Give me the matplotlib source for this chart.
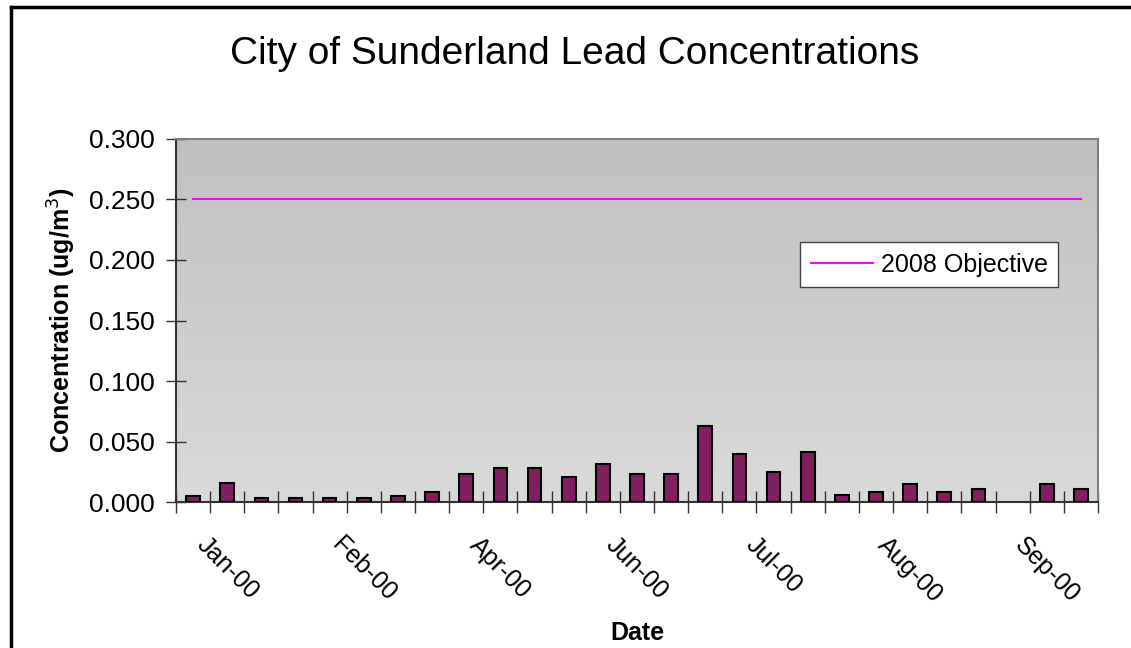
import numpy as np
import matplotlib
matplotlib.use("Agg")
import matplotlib.pyplot as plt
from matplotlib.lines import Line2D

plt.rcParams['font.family'] = ['Liberation Sans', 'DejaVu Sans']

# lead concentration per sampling period (ug/m3), one slot has no reading
lead = [0.005, 0.016, 0.003, 0.003, 0.003, 0.003, 0.005, 0.008, 0.023,
        0.028, 0.028, 0.021, 0.031, 0.023, 0.023, 0.063, 0.040, 0.025,
        0.041, 0.006, 0.008, 0.015, 0.008, 0.011, np.nan, 0.015, 0.011]
objective = [0.25] * len(lead)
month_labels = ['Jan-00', 'Feb-00', 'Apr-00', 'Jun-00', 'Jul-00', 'Aug-00', 'Sep-00']
label_slots = [1, 5, 9, 13, 17, 21, 25]

n = len(lead)
x = np.arange(n)

fig = plt.figure(figsize=(11.31, 6.48), dpi=100)
ax = fig.add_axes([0.1556, 0.2253, 0.8152, 0.5602])

# grey gradient in the plot area, darker at the top
grad = np.linspace(0, 1, 256).reshape(-1, 1)
cmap = matplotlib.colors.LinearSegmentedColormap.from_list('g', ['#c0c0c0', '#dadada'])
ax.imshow(grad, cmap=cmap, aspect='auto', extent=[0, 1, 0, 1], origin='upper',
          transform=ax.transAxes, zorder=0)

ax.bar(x, lead, width=0.4, color='#80205f', edgecolor='black', linewidth=1.5, zorder=3)
ax.plot(x, objective, color='#ff00ff', linewidth=1.5, label='2008 Objective', zorder=4)

ax.set_xlim(-0.5, n - 0.5)
ax.set_ylim(0, 0.3)
ax.set_yticks(np.arange(0, 0.301, 0.05))
ax.set_yticklabels(['%.3f' % v for v in np.arange(0, 0.301, 0.05)])
ax.tick_params(axis='y', direction='inout', length=14, width=1, labelsize=19, pad=8, color='#333333')

# ticks at category boundaries, labels on the category centres
ax.set_xticks(np.arange(-0.5, n, 1.0))
ax.set_xticklabels([])
ax.tick_params(axis='x', which='major', direction='inout', length=16, width=1, color='#333333')
ax.set_xticks(label_slots, minor=True)
ax.set_xticklabels(month_labels, minor=True, rotation=-45, ha='center', fontsize=18)
ax.tick_params(axis='x', which='minor', length=0, pad=22)

for s in ['left', 'bottom']:
    ax.spines[s].set_color('#333333')
    ax.spines[s].set_linewidth(1.5)
for s in ['top', 'right']:
    ax.spines[s].set_color('#808080')
    ax.spines[s].set_linewidth(1.5)

ax.set_xlabel('Date', fontsize=18, fontweight='bold', labelpad=10)
ax.set_ylabel('Concentration (ug/m$^3$)', fontsize=18, fontweight='bold', labelpad=8)
fig.suptitle('City of Sunderland Lead Concentrations', fontsize=28, x=0.508, y=0.945)

leg = ax.legend(loc='upper left', bbox_to_anchor=(0.677, 0.715), fontsize=18,
                frameon=True, fancybox=False, handlelength=2.5, borderpad=0.42,
                handletextpad=0.3, borderaxespad=0)
leg.get_frame().set_edgecolor('#444444')
leg.get_frame().set_facecolor('white')
leg.get_frame().set_alpha(1)

# outer frame (top and left edges visible)
fig.add_artist(Line2D([0.0093, 0.0093], [0, 0.989], color='black', linewidth=2.5))
fig.add_artist(Line2D([0.0093, 1.0], [0.989, 0.989], color='black', linewidth=2.5))

fig.savefig('out.png', dpi=100)
